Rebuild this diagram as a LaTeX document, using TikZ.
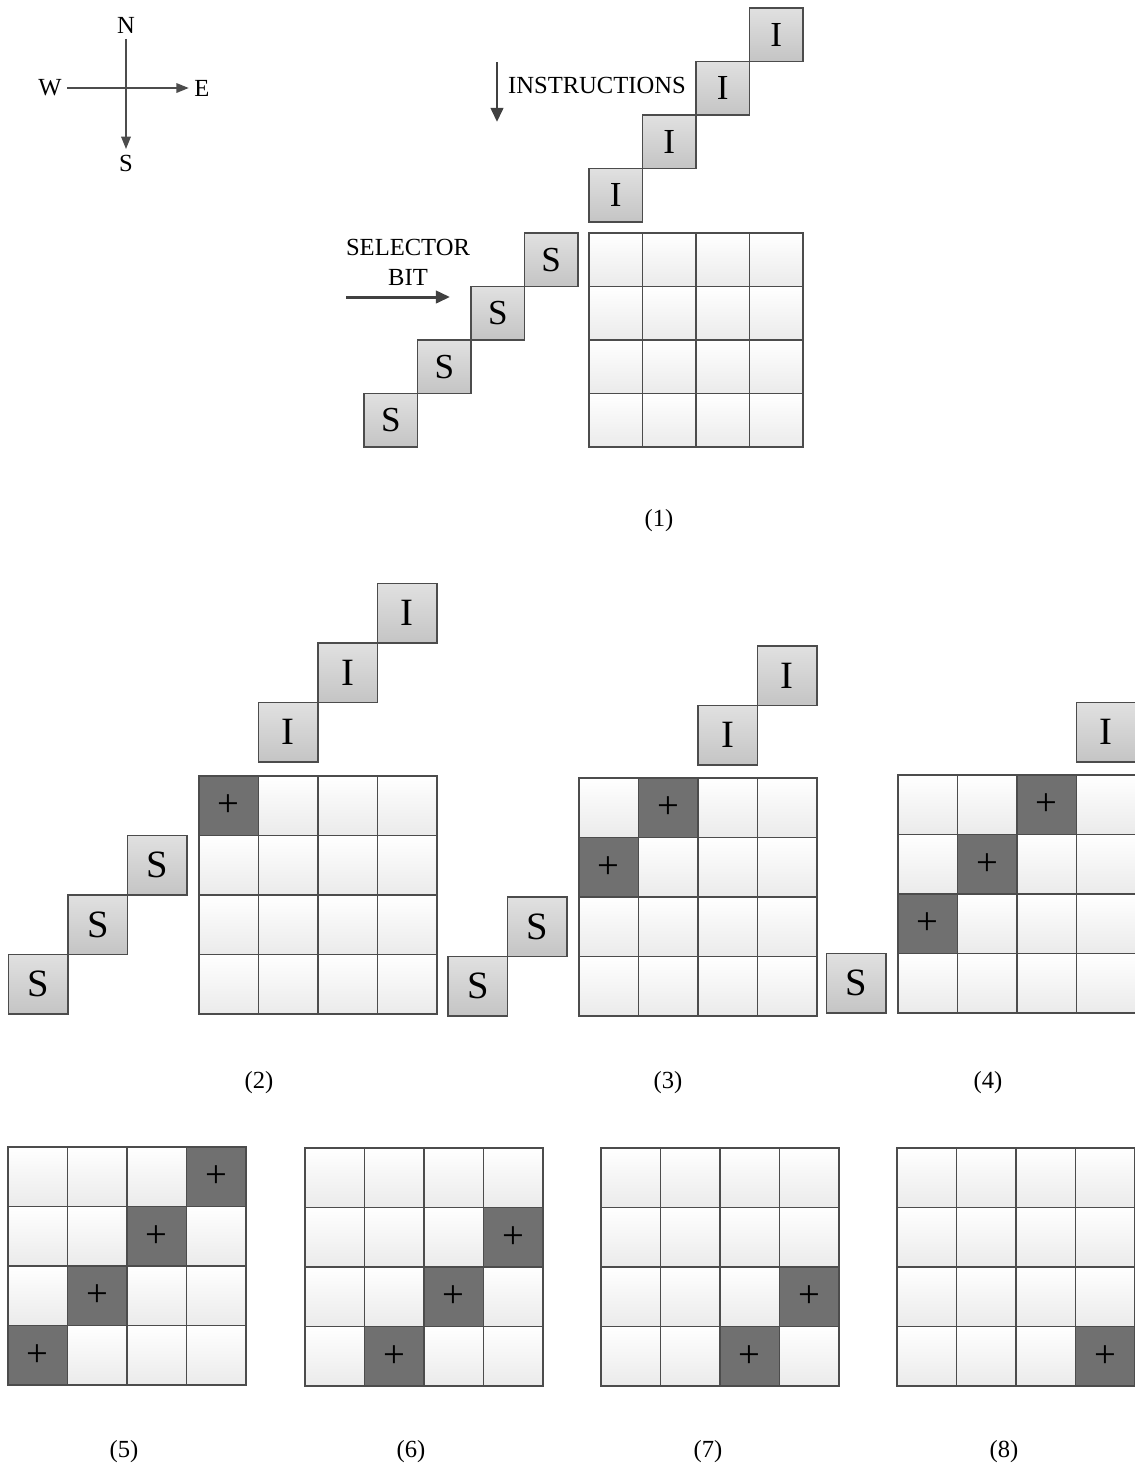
\documentclass[tikz,border=0pt]{standalone}
\usepackage{fontspec}
\setmainfont{Liberation Serif}
\usepackage{tikz}
\usetikzlibrary{positioning, calc, arrows.meta}

\begin{document}
\begin{tikzpicture}[
    x=0.02cm, y=-0.02cm,        % one unit = one pixel of the layout
    line width=0.6pt,
    txt/.style={font=\fontsize{14}{17}\selectfont, inner sep=3pt},
    thinarrow/.style={-{Triangle[length=7pt,width=5.5pt]}, draw=black!70, line width=0.7pt},
    thickarrow/.style={-{Triangle[length=8pt,width=7pt]}, draw=black!75, line width=1.7pt},
    cellbase/.style={draw=black!70, line width=0.7pt, inner sep=0pt, outer sep=0pt, font=\fontsize{22}{24}\selectfont},
    coldcell/.style={cellbase, top color=white, bottom color=black!8},
    hotcell/.style={cellbase, fill=black!56},
    gcell/.code={\ifnum#1=1 \tikzset{hotcell}\else\tikzset{coldcell}\fi},
    lbox/.style={draw=black!70, line width=0.7pt, inner sep=0pt, outer sep=0pt, top color=black!12, bottom color=black!23},
    lboxA/.style={lbox, minimum size=1.07cm, font=\fontsize{20}{22}\selectfont},
    lboxB/.style={lbox, minimum size=1.19cm, font=\fontsize{22}{24}\selectfont},
]
\useasboundingbox (0,0) rectangle (1134,1475);

% -------------------------------------------------
% Compass
% -------------------------------------------------
\node[txt] (north) at (126,25)  {N};
\node[txt] (south) at (126,163) {S};
\node[txt] (west)  at (50,88)   {W};
\node[txt] (east)  at (202,88)  {E};
\draw[thinarrow] (west) -- (east);
\draw[thinarrow] (north) -- (south);

% -------------------------------------------------
% Grids (panel / left / top / cell size)
% the marked cells of panel p are those with row+col = p
% -------------------------------------------------
\foreach \p/\ox/\oy/\cs in {1/589/233/53.5, 2/199/776/59.5, 3/579/778/59.5,
                           4/898/775/59.5, 5/8/1147/59.5, 6/305/1148/59.5,
                           7/601/1148/59.5, 8/897/1148/59.5}
  \foreach \r in {1,...,4}
    \foreach \c in {1,...,4} {
      \pgfmathtruncatemacro\hot{(\r+\c==\p) ? 1 : 0}
      \node[gcell=\hot, minimum size=\cs*0.02cm] (g\p-\r-\c)
        at ({\ox+(\c-0.5)*\cs},{\oy+(\r-0.5)*\cs}) {\ifnum\hot=1 +\fi};
    }

% -------------------------------------------------
% Panel (1): instructions and selector bits
% -------------------------------------------------
\node[lboxA, above=0.22cm of g1-1-1]         (i1a) {I};
\node[lboxA, above right=0cm and 0cm of i1a] (i1b) {I};
\node[lboxA, above right=0cm and 0cm of i1b] (i1c) {I};
\node[lboxA, above right=0cm and 0cm of i1c] (i1d) {I};

\node[lboxA, left=0.22cm of g1-1-1]          (s1a) {S};
\node[lboxA, below left=0cm and 0cm of s1a]  (s1b) {S};
\node[lboxA, below left=0cm and 0cm of s1b]  (s1c) {S};
\node[lboxA, below left=0cm and 0cm of s1c]  (s1d) {S};

\coordinate (instop) at (497,62);
\coordinate (insend) at (497,122);
\draw[thickarrow] (instop) -- (insend);
\node[txt] (instr) at (597,85) {INSTRUCTIONS};

\node[txt, align=center] (selbit) at (408,262) {SELECTOR\\BIT};
\coordinate (selstart) at (346,297);
\coordinate (selend)   at (450,297);
\draw[thickarrow] (selstart) -- (selend);

% -------------------------------------------------
% Panels (2)-(4)
% -------------------------------------------------
\node[lboxB, above=0.28cm of g2-1-2]         (i2a) {I};
\node[lboxB, above right=0cm and 0cm of i2a] (i2b) {I};
\node[lboxB, above right=0cm and 0cm of i2b] (i2c) {I};
\node[lboxB, left=0.24cm of g2-2-1]          (s2a) {S};
\node[lboxB, below left=0cm and 0cm of s2a]  (s2b) {S};
\node[lboxB, below left=0cm and 0cm of s2b]  (s2c) {S};

\node[lboxB, above=0.26cm of g3-1-3]         (i3a) {I};
\node[lboxB, above right=0cm and 0cm of i3a] (i3b) {I};
\node[lboxB, left=0.24cm of g3-3-1]          (s3a) {S};
\node[lboxB, below left=0cm and 0cm of s3a]  (s3b) {S};

\node[lboxB, above=0.26cm of g4-1-4]         (i4a) {I};
\node[lboxB, left=0.24cm of g4-4-1]          (s4a) {S};

% -------------------------------------------------
% Captions
% -------------------------------------------------
\node[txt] (cap1) at (659,521)  {(1)};
\node[txt] (cap2) at (259,1083) {(2)};
\node[txt] (cap3) at (668,1083) {(3)};
\node[txt] (cap4) at (988,1083) {(4)};
\node[txt] (cap5) at (124,1452) {(5)};
\node[txt] (cap6) at (411,1452) {(6)};
\node[txt] (cap7) at (708,1452) {(7)};
\node[txt] (cap8) at (1004,1452) {(8)};

\end{tikzpicture}
\end{document}
